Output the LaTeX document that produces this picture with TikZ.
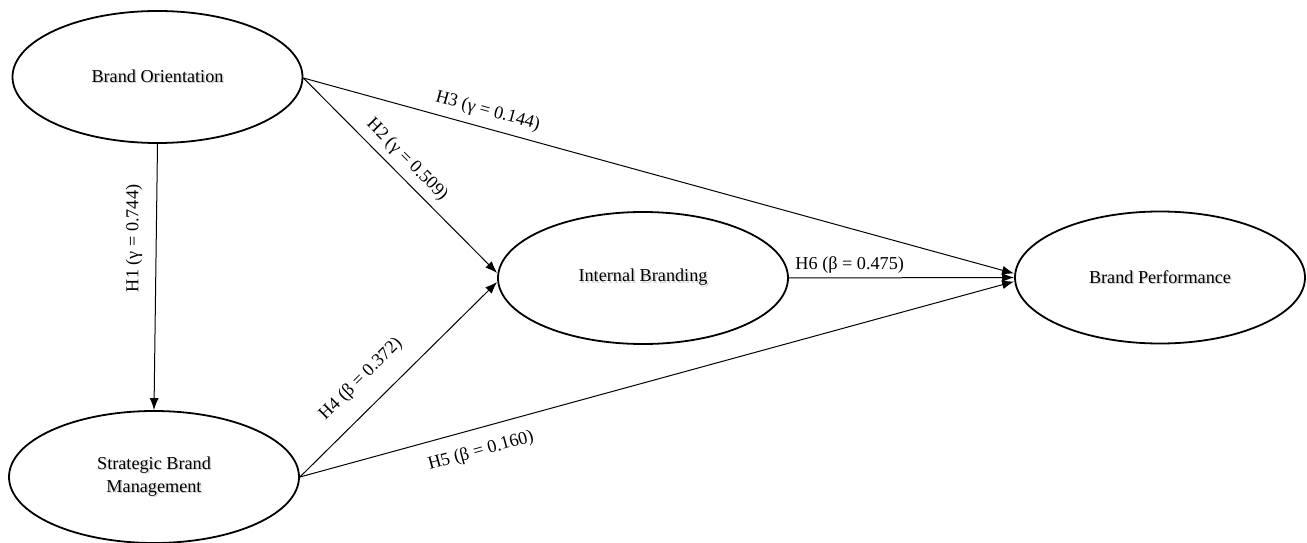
\documentclass[tikz,border=0pt]{standalone}
\usepackage{fontspec}
\setmainfont{Liberation Serif}
\usetikzlibrary{shapes.geometric, arrows.meta, positioning}

% soft grey drop shadow behind the construct names
\newcommand{\shtext}[1]{\leavevmode\rlap{\color{black!18}\raisebox{-0.7pt}{\kern0.7pt#1}}#1}

\tikzset{
  construct/.style={ellipse, draw, line width=0.9pt, minimum width=145pt, minimum height=66pt,
    align=center, font=\fontsize{9.1}{11.5}\selectfont},
  hypo/.style={-{Latex[length=6pt,width=4.5pt]}, line width=0.5pt},
  coef/.style={font=\fontsize{9.1}{11}\selectfont, inner sep=1pt},
}

\begin{document}
\begin{tikzpicture}[x=0.5pt, y=0.5pt]
  \useasboundingbox (0,0) rectangle (1307,542);

  \node[construct] (bo) at (157.5,465) {\shtext{Brand Orientation}};
  \node[construct] (sbm) at (154,65) {\shtext{Strategic Brand}\\\shtext{Management}};
  \node[construct] (ib) at (643,264) {\shtext{Internal Branding}};
  \node[construct] (bp) at (1160,264.5) {\shtext{Brand Performance}};

  \draw[hypo] (bo.south) -- (sbm.north)
    node[coef, rotate=90, anchor=south, outer sep=6pt, pos=0.355] {H1 (γ = 0.744)};
  \draw[hypo] ([yshift=-0.5pt]bo.east) -- ([yshift=2.5pt]ib.west)
    node[coef, sloped, above=2.5pt, pos=0.477] {H2 (γ = 0.509)};
  \draw[hypo] ([yshift=-0.5pt]bo.east) -- ([yshift=2pt]bp.west)
    node[coef, sloped, above=3pt, pos=0.253] {H3 (γ = 0.144)};
  \draw[hypo] (sbm.east) -- ([yshift=-2pt]ib.west)
    node[coef, sloped, above=8pt, pos=0.405] {H4 (β = 0.372)};
  \draw[hypo] (sbm.east) -- ([yshift=-2pt]bp.west)
    node[coef, sloped, below=6pt, pos=0.245] {H5 (β = 0.160)};
  \draw[hypo] (ib.east) -- (bp.west)
    node[coef, above=1.2pt, pos=0.27] {H6 (β = 0.475)};
\end{tikzpicture}
\end{document}
